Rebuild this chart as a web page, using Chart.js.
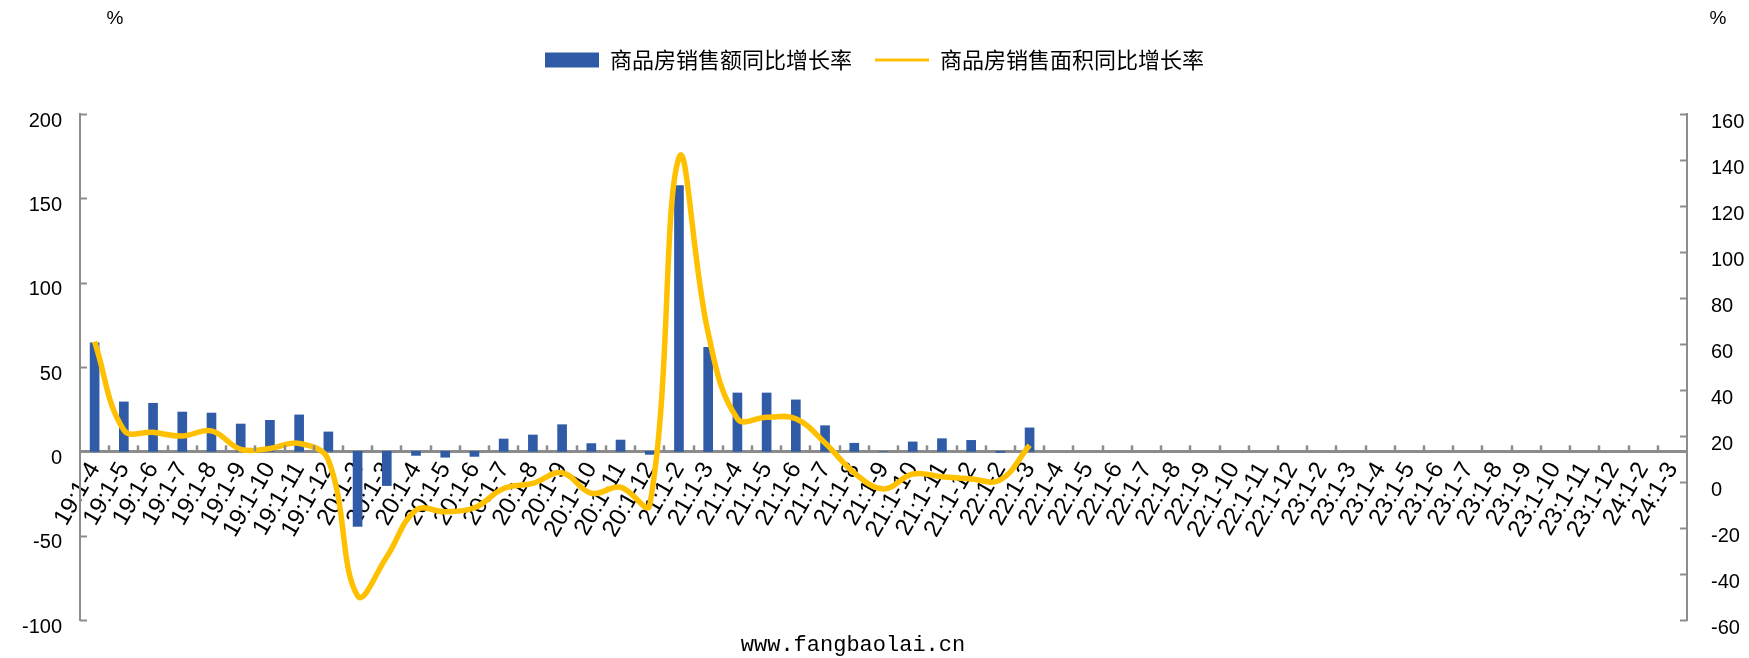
<!DOCTYPE html>
<html>
<head>
<meta charset="utf-8">
<script src="https://cdn.jsdelivr.net/npm/chart.js@4"></script>
<style>
  body { margin: 0; background: #fff; }
</style>
</head>
<body>
<canvas id="chart" width="1749" height="658"></canvas>
<script>
"use strict";

// x categories (year:month range)
const months = [
  "19:1-4", "19:1-5", "19:1-6", "19:1-7", "19:1-8", "19:1-9", "19:1-10", "19:1-11", "19:1-12",
  "20:1-2", "20:1-3", "20:1-4", "20:1-5", "20:1-6", "20:1-7", "20:1-8", "20:1-9", "20:1-10", "20:1-11", "20:1-12",
  "21:1-2", "21:1-3", "21:1-4", "21:1-5", "21:1-6", "21:1-7", "21:1-8", "21:1-9", "21:1-10", "21:1-11", "21:1-12",
  "22:1-2", "22:1-3", "22:1-4", "22:1-5", "22:1-6", "22:1-7", "22:1-8", "22:1-9", "22:1-10", "22:1-11", "22:1-12",
  "23:1-2", "23:1-3", "23:1-4", "23:1-5", "23:1-6", "23:1-7", "23:1-8", "23:1-9", "23:1-10", "23:1-11", "23:1-12",
  "24:1-2", "24:1-3"
];

// 商品房销售额同比增长率 (left axis, %)
const salesAmountYoY = [
  64.3, 29.3, 28.5, 23.3, 22.7, 16.2, 18.4, 21.6, 11.5,
  -44.5, -20.3, -2.4, -3.5, -3.0, 7.3, 9.7, 15.8, 4.6, 6.7, -1.8,
  157.5, 61.7, 34.6, 34.6, 30.5, 15.2, 4.8, 0, 5.6, 7.5, 6.5,
  -0.6, 13.9
];

// 商品房销售面积同比增长率 (right axis, %)
const salesAreaYoY = [
  61, 22.6, 21.6, 20, 22.2, 14.2, 14.6, 16.8, 9.6,
  -49.5, -32.5, -12.2, -12.9, -11.2, -2.8, -0.6, 4, -4.9, -2.3, -10,
  141, 64.7, 27.5, 28.1, 27.5, 17, 4, -3, 3.5, 2.3, 1.3,
  0.9, 16
];

const leftTicks = { min: -100, max: 200, step: 50 };
const rightTicks = { min: -60, max: 160, step: 20 };

const axisGray = "#8c8c8c";

// pad the series out to the full category list
function padded(values) {
  let out = values.slice();
  while (out.length < months.length) {
    out.push(null);
  }
  return out;
}

// inward tick marks, "%" unit labels and the site text
const decor = {
  id: "decor",
  afterDraw(chart) {
    const ctx = chart.ctx;
    const xs = chart.scales.x;
    const yl = chart.scales.y;
    const yr = chart.scales.y1;
    const area = chart.chartArea;

    ctx.save();
    ctx.strokeStyle = axisGray;
    ctx.lineWidth = 2.5;

    const zeroY = yl.getPixelForValue(0);
    const step = xs.getPixelForValue(1) - xs.getPixelForValue(0);
    for (let i = 1; i < months.length; i++) {
      const px = Math.round(xs.getPixelForValue(i) - step / 2);
      ctx.beginPath();
      ctx.moveTo(px, zeroY);
      ctx.lineTo(px, zeroY - 6);
      ctx.stroke();
    }

    ctx.lineWidth = 2;
    yl.ticks.forEach(function (t) {
      const py = Math.round(yl.getPixelForValue(t.value)) + 0.5;
      ctx.beginPath();
      ctx.moveTo(area.left, py);
      ctx.lineTo(area.left + 7, py);
      ctx.stroke();
    });
    yr.ticks.forEach(function (t) {
      const py = Math.round(yr.getPixelForValue(t.value)) + 0.5;
      ctx.beginPath();
      ctx.moveTo(area.right, py);
      ctx.lineTo(area.right - 7, py);
      ctx.stroke();
    });

    ctx.fillStyle = "#000";
    ctx.textAlign = "center";
    ctx.textBaseline = "middle";
    ctx.font = "19px 'Liberation Sans'";
    ctx.fillText("%", 115, 19);
    ctx.fillText("%", 1718, 19);

    ctx.font = "22px 'Liberation Mono'";
    ctx.fillText("www.fangbaolai.cn", 853, 645);
    ctx.restore();
  }
};

const canvasElem = document.getElementById("chart");

const data = {
  labels: months,
  datasets: [
    {
      type: "line",
      label: "商品房销售面积同比增长率",
      data: padded(salesAreaYoY),
      yAxisID: "y1",
      borderColor: "#ffc000",
      backgroundColor: "#ffc000",
      borderWidth: 5.5,
      tension: 0.4,
      pointRadius: 0,
      pointStyle: "line",
      spanGaps: false,
      order: 0
    },
    {
      type: "bar",
      label: "商品房销售额同比增长率",
      data: padded(salesAmountYoY),
      yAxisID: "y",
      backgroundColor: "#2f5ba7",
      borderWidth: 0,
      barThickness: 9,
      pointStyle: "rect",
      order: 1
    }
  ]
};

const config = {
  data: data,
  plugins: [decor],
  options: {
    responsive: false,
    animation: false,
    devicePixelRatio: 1,
    layout: {
      padding: { top: 26, bottom: 38, left: 0, right: 0 }
    },
    plugins: {
      legend: {
        position: "top",
        reverse: true,
        labels: {
          usePointStyle: true,
          pointStyleWidth: 54,
          boxHeight: 15,
          padding: 23,
          color: "#000",
          font: { family: "'Noto Sans CJK SC'", size: 22 },
          generateLabels(chart) {
            const items = Chart.defaults.plugins.legend.labels.generateLabels(chart);
            items.forEach(function (item) {
              if (item.pointStyle === "line") {
                item.lineWidth = 3;
              }
            });
            return items;
          }
        }
      },
      // empty title used as a spacer between legend and plot
      title: {
        display: true,
        text: "",
        weight: 500,
        font: { size: 12 },
        padding: { top: 0, bottom: 18.6 }
      },
      tooltip: { enabled: false }
    },
    scales: {
      x: {
        type: "category",
        position: { y: 0 },
        offset: true,
        grid: { display: false, drawTicks: false },
        border: { display: true, color: axisGray, width: 3 },
        ticks: {
          autoSkip: false,
          minRotation: 60,
          maxRotation: 60,
          padding: 6,
          color: "#000",
          font: { family: "'Liberation Sans'", size: 24 }
        }
      },
      y: {
        position: "left",
        min: leftTicks.min,
        max: leftTicks.max,
        grid: { display: false, drawTicks: false },
        border: { display: true, color: axisGray, width: 2 },
        ticks: {
          stepSize: leftTicks.step,
          padding: 18,
          labelOffset: 7,
          color: "#000",
          font: { family: "'Liberation Sans'", size: 20 }
        },
        afterFit(scale) {
          scale.width = 80;
        }
      },
      y1: {
        position: "right",
        min: rightTicks.min,
        max: rightTicks.max,
        grid: { display: false, drawTicks: false },
        border: { display: true, color: axisGray, width: 2 },
        ticks: {
          stepSize: rightTicks.step,
          padding: 24,
          labelOffset: 8,
          color: "#000",
          font: { family: "'Liberation Sans'", size: 20 }
        },
        afterFit(scale) {
          scale.width = 62;
        }
      }
    }
  }
};

const newChart = new Chart(canvasElem, config);
</script>
</body>
</html>
